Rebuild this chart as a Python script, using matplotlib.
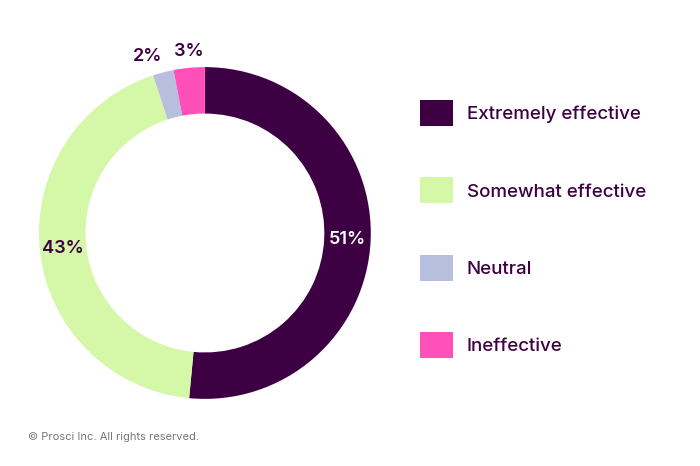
import matplotlib.pyplot as plt
from matplotlib.patches import Patch
import numpy as np

labels = ['Extremely effective', 'Somewhat effective', 'Neutral', 'Ineffective']
values = [51, 43, 2, 3]
colors = ['#3D0042', '#D4F7A8', '#B8BEDD', '#FF4FB8']
label_text = ['51%', '43%', '2%', '3%']

plt.rcParams['font.family'] = ['Inter', 'DejaVu Sans']

fig = plt.figure(figsize=(7, 4.66), dpi=100)
ax = fig.add_axes([0.0557, 0.144, 0.474, 0.712])
wedges, _ = ax.pie(values, colors=colors, startangle=90, counterclock=False,
                   wedgeprops=dict(width=0.28, edgecolor='none'))
ax.set_xlim(-1, 1)
ax.set_ylim(-1, 1)
ax.set_aspect('equal')

# percent labels: first two on ring, small ones outside
for i, (w, txt) in enumerate(zip(wedges, label_text)):
    ang = np.deg2rad((w.theta1 + w.theta2) / 2)
    col = 'white' if i == 0 else '#3D0042'
    if i < 2:
        ax.text(0.86 * np.cos(ang), 0.86 * np.sin(ang), txt, ha='center', va='center',
                fontsize=13, fontweight='semibold', color=col)
    else:
        ha = 'right' if i == 2 else 'left'
        ax.text(1.1 * np.cos(ang) + (0.02 if i == 2 else -0.08), 1.1 * np.sin(ang), txt,
                ha=ha, va='center', fontsize=13, fontweight='semibold', color=col)

handles = [Patch(facecolor=c, edgecolor='none') for c in colors]
leg = fig.legend(handles, labels, loc='upper left', bbox_to_anchor=(420 / 700, 1 - 100 / 466),
                 frameon=False, fontsize=13.5, handlelength=1.75, handleheight=1.75,
                 labelspacing=2.75, handletextpad=0.75, borderpad=0, borderaxespad=0)
for t in leg.get_texts():
    t.set_color('#3D0042')
    t.set_fontweight('medium')

fig.text(28 / 700, 1 - 437 / 466, '© Prosci Inc. All rights reserved.', fontsize=8,
         color='#777777', va='center')

fig.savefig('out.png', dpi=100)
